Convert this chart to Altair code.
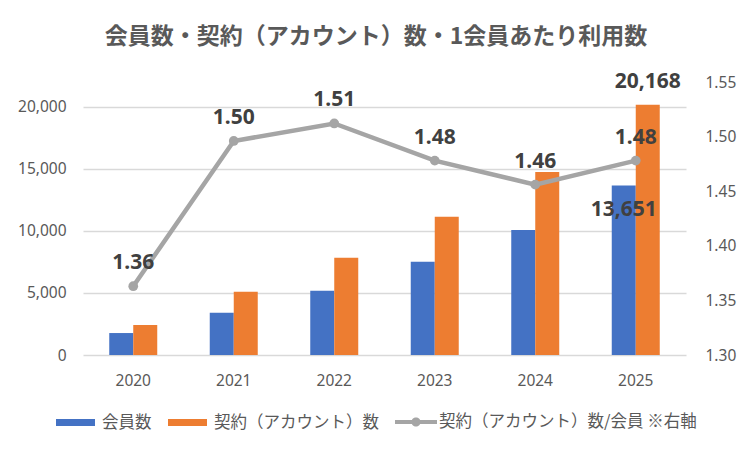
import altair as alt
import pandas as pd

years = ["2020", "2021", "2022", "2023", "2024", "2025"]
members = [1770, 3410, 5180, 7520, 10070, 13651]
contracts = [2420, 5100, 7840, 11150, 14750, 20168]
per_member = [1.363, 1.496, 1.512, 1.478, 1.456, 1.478]
series_names = ["会員数", "契約（アカウント）数", "契約（アカウント）数/会員 ※右軸"]
bar_colors = ["#4472C4", "#ED7D31"]
line_color = "#A5A5A5"
left_ticks = [0, 5000, 10000, 15000, 20000]
right_ticks = [1.30, 1.35, 1.40, 1.45, 1.50, 1.55]
labeled_year = "2025"
title_text = "会員数・契約（アカウント）数・1会員あたり利用数"

bars_df = pd.DataFrame({
    "year": years * 2,
    "series": [series_names[0]] * len(years) + [series_names[1]] * len(years),
    "value": members + contracts,
})
line_df = pd.DataFrame({"year": years, "ratio": per_member, "series": [series_names[2]] * len(years)})

num_font = "Noto Sans, Noto Sans CJK JP"
cjk_font = "Noto Sans CJK JP"
axis_color = "#595959"
label_color = "#404040"
no_view = alt.ViewBackground(stroke="transparent", strokeWidth=0)

x_axis = alt.Axis(title=None, labelAngle=0, ticks=False, domain=False, grid=False,
                  labelPadding=18, labelFontSize=15.5, labelColor=axis_color, labelFont=num_font)
x_scale = alt.Scale(domain=years, paddingInner=0.5224, paddingOuter=0.2612)

x_bar = alt.X("year:N", scale=x_scale, axis=x_axis)
x_off = alt.XOffset("series:N", scale=alt.Scale(domain=series_names[:2], paddingInner=0, paddingOuter=0))
y_left = alt.Y("value:Q", scale=alt.Scale(domain=[0, 22000], nice=False),
               axis=alt.Axis(orient="left", values=left_ticks, format=",d", title=None, ticks=False,
                             domain=False, grid=True, gridColor="#D9D9D9", gridWidth=1.3,
                             labelPadding=17, labelFontSize=15.5, labelColor=axis_color, labelFont=num_font))

bars = alt.Chart(bars_df).mark_bar().encode(
    x=x_bar,
    xOffset=x_off,
    y=y_left,
    color=alt.Color("series:N", scale=alt.Scale(domain=series_names[:2], range=bar_colors),
                    legend=alt.Legend(orient="none", legendX=-27, legendY=321, direction="horizontal",
                                      title=None, symbolType="M-1,-0.18H1V0.18H-1Z", symbolSize=1521,
                                      symbolStrokeWidth=0, labelFontSize=16.5, labelColor=axis_color,
                                      labelFont=cjk_font, labelOffset=7, columnPadding=16,
                                      labelLimit=500)),
)

lbl_blue = alt.Chart(bars_df).transform_filter(
    (alt.datum.year == labeled_year) & (alt.datum.series == series_names[0])
).mark_text(dy=24, fontSize=21, fontWeight="bold", color=label_color, font=num_font, baseline="middle").encode(
    x=x_bar, xOffset=x_off, y=y_left, text=alt.Text("value:Q", format=",d")
)
lbl_orange = alt.Chart(bars_df).transform_filter(
    (alt.datum.year == labeled_year) & (alt.datum.series == series_names[1])
).mark_text(dy=-23, fontSize=21, fontWeight="bold", color=label_color, font=num_font, baseline="middle").encode(
    x=x_bar, xOffset=x_off, y=y_left, text=alt.Text("value:Q", format=",d")
)

left = alt.layer(bars, lbl_blue, lbl_orange)

x_line = alt.X("year:N", scale=x_scale, axis=x_axis, bandPosition=0.5)
y_right = alt.Y("ratio:Q", scale=alt.Scale(domain=[1.30, 1.55], nice=False, zero=False),
                axis=alt.Axis(orient="right", values=right_ticks, format=".2f", title=None, ticks=False,
                              domain=False, grid=False, labelPadding=19, labelFontSize=15.5,
                              labelColor=axis_color, labelFont=num_font))

line = alt.Chart(line_df).mark_line(color=line_color, strokeWidth=4.5).encode(x=x_line, y=y_right)
points = alt.Chart(line_df).mark_circle(size=95, opacity=1).encode(
    x=x_line, y=y_right,
    fill=alt.Fill("series:N", scale=alt.Scale(domain=[series_names[2]], range=[line_color]),
                  legend=alt.Legend(orient="none", legendX=312, legendY=319, title=None,
                                    symbolType="M-1,-0.1H1V0.1H-1Z M-0.22,0A0.22,0.22,0,1,1,0.22,0A0.22,0.22,0,1,1,-0.22,0Z",
                                    symbolSize=1764, symbolStrokeWidth=0, labelFontSize=16.5,
                                    labelColor=axis_color, labelFont=cjk_font, labelOffset=2,
                                    labelLimit=500)),
)
line_lbl = alt.Chart(line_df).mark_text(dy=-23, fontSize=21, fontWeight="bold", color=label_color,
                                        font=num_font, baseline="middle").encode(
    x=x_line, y=y_right, text=alt.Text("ratio:Q", format=".2f")
)

right = alt.layer(line, points, line_lbl)

chart = alt.layer(left, right).resolve_scale(y="independent").properties(
    width=603,
    height=273,
    view=no_view,
    padding={"left": 75, "top": 74, "right": 58, "bottom": 88},
    autosize=alt.AutoSizeParams(type="none"),
    title=alt.TitleParams(text=title_text, fontSize=23, font=cjk_font, fontWeight="bold",
                          color=axis_color, anchor="middle", dx=-8.5, offset=22),
).configure_view(stroke="transparent", strokeWidth=0).configure_axis(
    domain=False
).configure(background="white")

chart.save("out.html", embed_options={"renderer": "svg", "actions": False})
